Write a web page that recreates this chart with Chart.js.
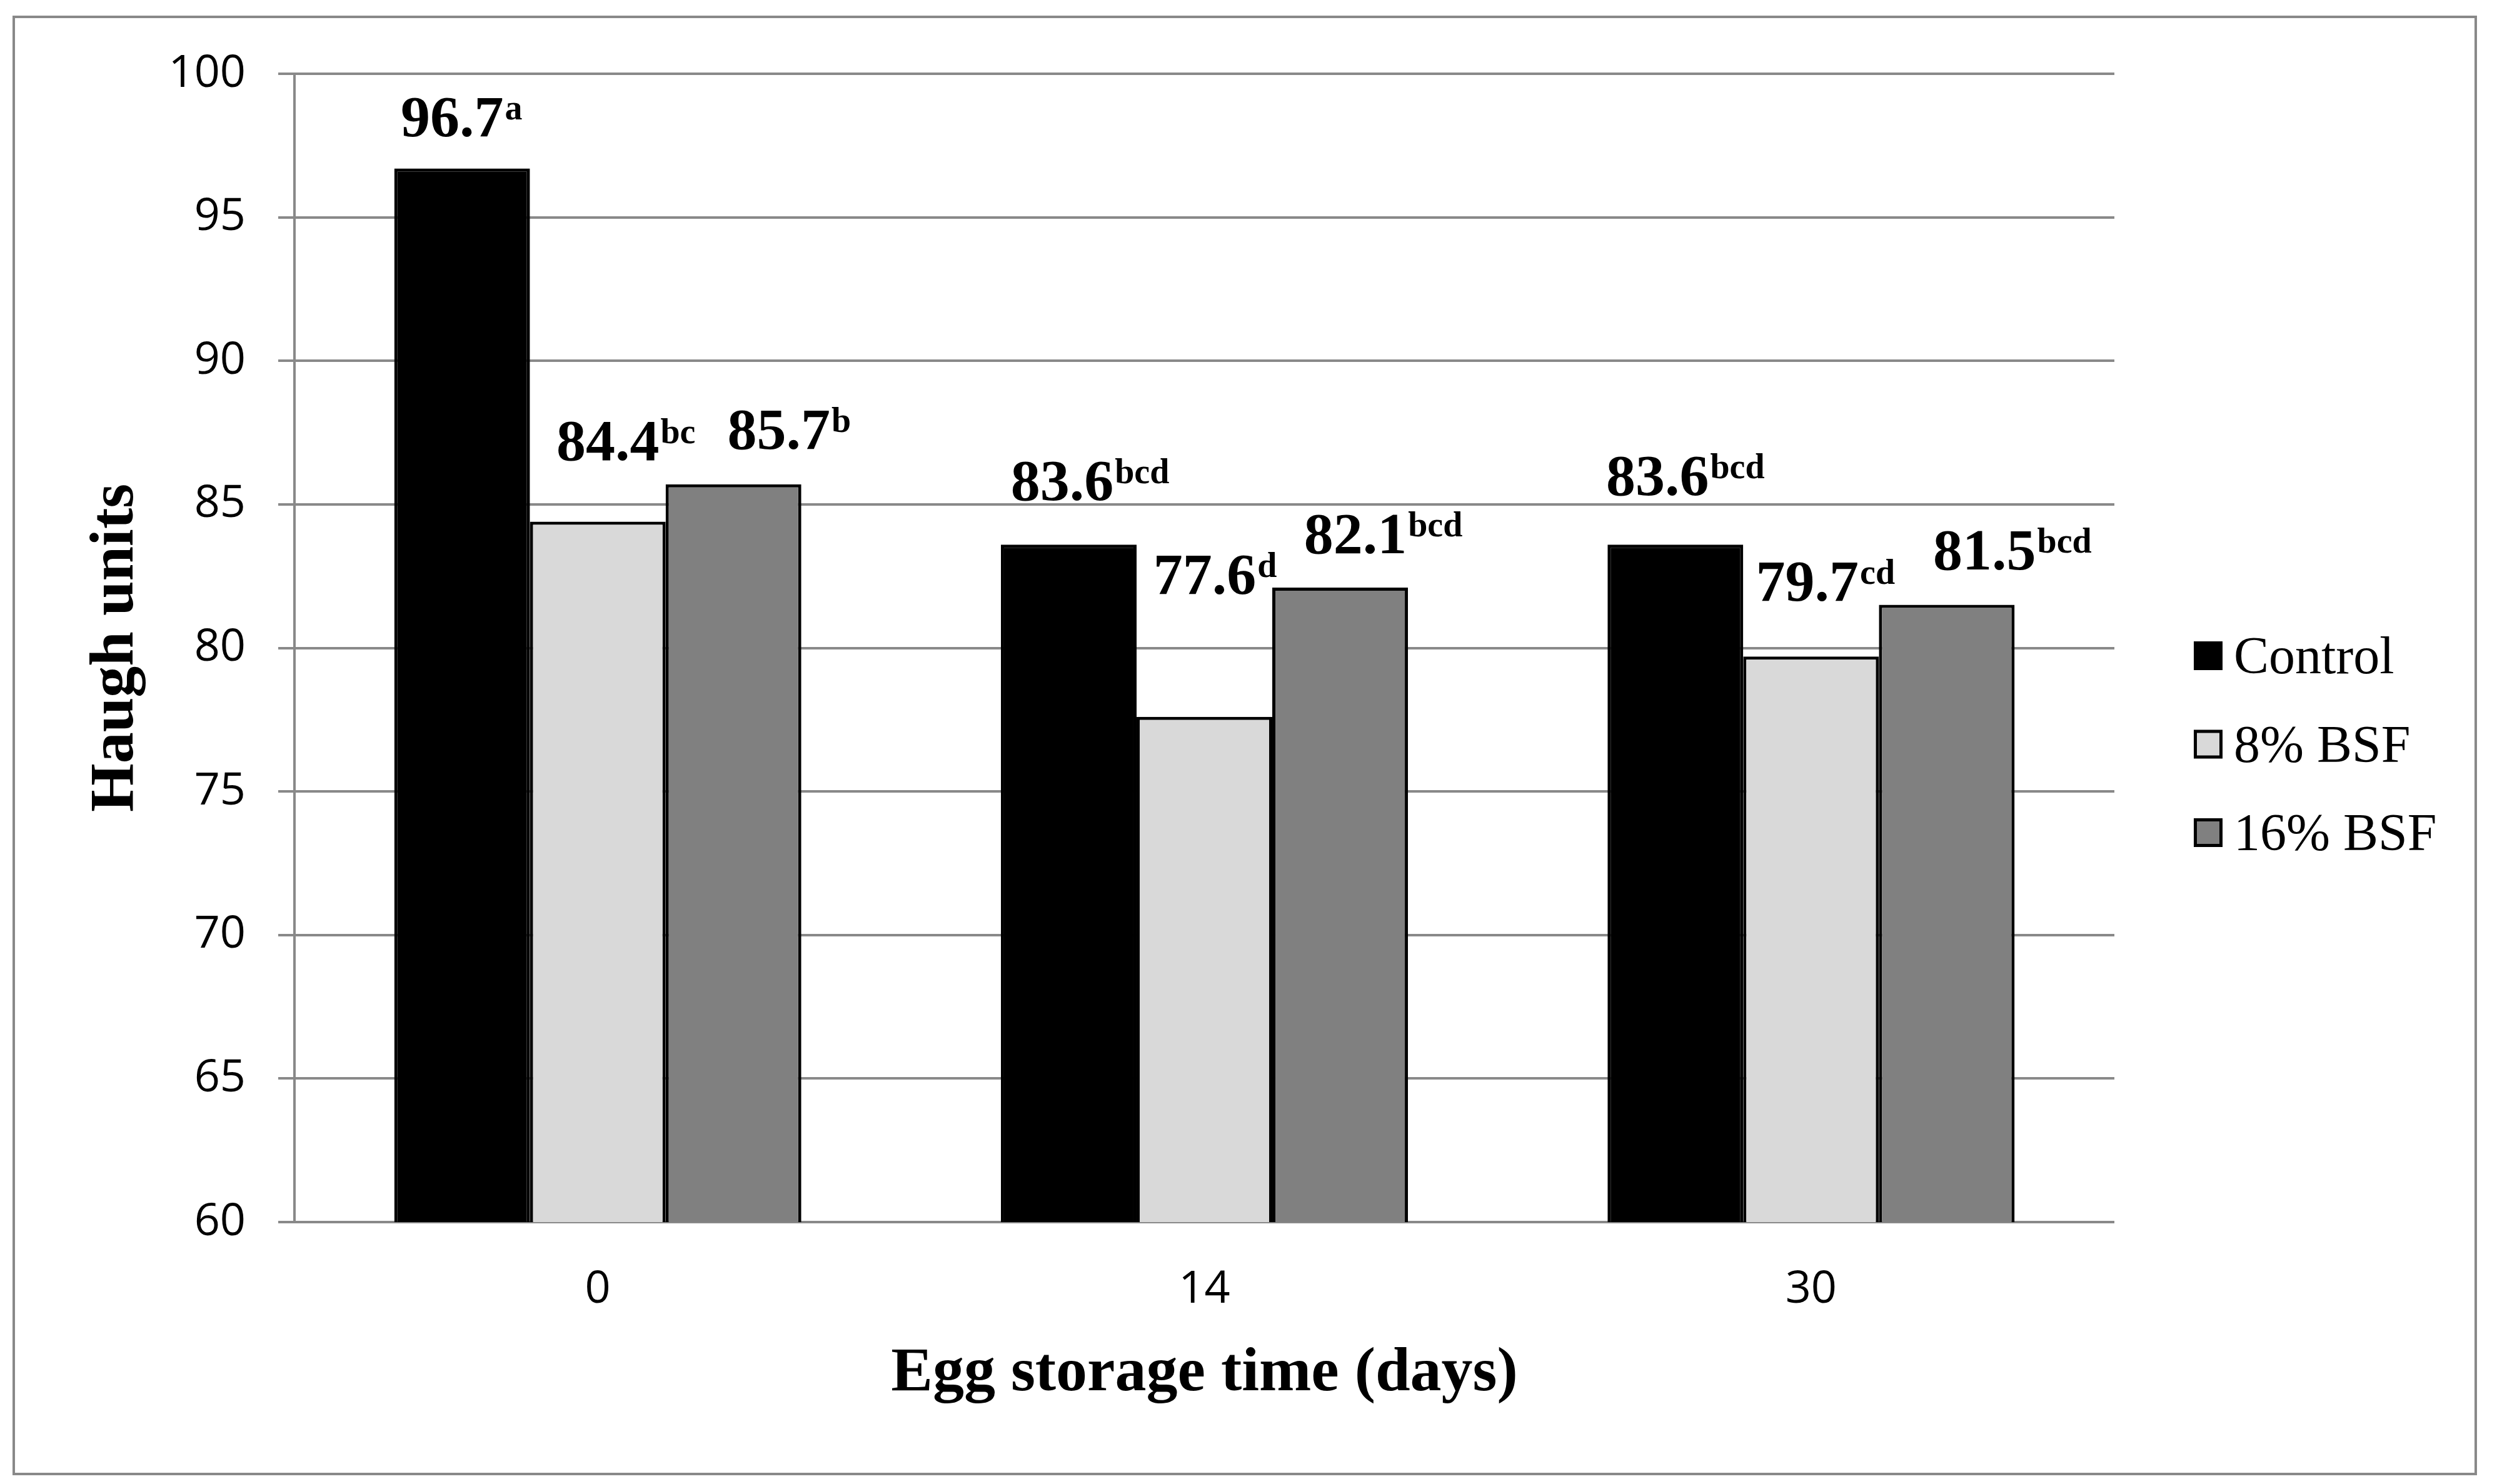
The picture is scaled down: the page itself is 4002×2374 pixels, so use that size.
<!DOCTYPE html>
<html>
<head>
<meta charset="utf-8">
<script src="https://cdn.jsdelivr.net/npm/chart.js@4.4.1/dist/chart.umd.min.js"></script>
<style>
  html, body { margin: 0; padding: 0; background: #fff; }
  #wrap { width: 4002px; height: 2374px; }
</style>
</head>
<body>
<div id="wrap"><canvas id="haughChart" width="4002" height="2374"></canvas></div>
<script>
// Values
const storageDays = ['0', '14', '30'];
const seriesNames = ['Control', '8% BSF', '16% BSF'];
const controlValues = [96.7, 83.6, 83.6];
const bsf8Values = [84.4, 77.6, 79.7];
const bsf16Values = [85.7, 82.1, 81.5];
const controlLetters = ['a', 'bcd', 'bcd'];
const bsf8Letters = ['bc', 'd', 'cd'];
const bsf16Letters = ['b', 'bcd', 'bcd'];
const yTicks = [60, 65, 70, 75, 80, 85, 90, 95, 100];

const gridGray = '#898989';
const serif = '"Liberation Serif", "Times New Roman", serif';
const sans = '"Open Sans", "Liberation Sans", sans-serif';

// Outer frame of the figure
const frame = {
    id: 'frame',
    beforeDraw(chart) {
        const ctx = chart.ctx;
        ctx.save();
        ctx.fillStyle = '#fff';
        ctx.fillRect(0, 0, chart.width, chart.height);
        ctx.strokeStyle = gridGray;
        ctx.lineWidth = 4;
        ctx.strokeRect(22, 27, 3938, 2331);
        ctx.restore();
    }
};

// Value + significance letter above each bar
const letterLabels = {
    id: 'letterLabels',
    afterDatasetsDraw(chart, args, opts) {
        const ctx = chart.ctx;
        ctx.save();
        ctx.fillStyle = '#000';
        ctx.textAlign = 'left';
        ctx.textBaseline = 'alphabetic';
        chart.data.datasets.forEach((ds, i) => {
            chart.getDatasetMeta(i).data.forEach((bar, j) => {
                const main = ds.data[j].toFixed(1);
                const sup = ds.letters[j];
                ctx.font = 'bold 94px ' + serif;
                const w1 = ctx.measureText(main).width;
                ctx.font = 'bold 56px ' + serif;
                const w2 = ctx.measureText(sup).width;
                const [dx, lift] = opts.shift[i][j];
                const x0 = bar.x + dx - (w1 + w2 + 2) / 2;
                const base = bar.y - lift;
                ctx.font = 'bold 94px ' + serif;
                ctx.fillText(main, x0, base);
                ctx.font = 'bold 56px ' + serif;
                ctx.fillText(sup, x0 + w1 + 2, base - 27);
            });
        });
        ctx.restore();
    }
};

// Legend at the right, as in the figure
const sideLegend = {
    id: 'sideLegend',
    afterDraw(chart, args, opts) {
        const { ctx, chartArea } = chart;
        const bx = chartArea.right + opts.offsetX;
        const s = opts.box;
        ctx.save();
        chart.data.datasets.forEach((ds, i) => {
            const cy = chartArea.top + opts.firstY + i * opts.gap;
            ctx.fillStyle = ds.backgroundColor;
            ctx.fillRect(bx, cy - s / 2, s, s);
            ctx.strokeStyle = '#000';
            ctx.lineWidth = 5;
            ctx.strokeRect(bx + 2.5, cy - s / 2 + 2.5, s - 5, s - 5);
            ctx.fillStyle = '#000';
            ctx.font = '84px ' + serif;
            ctx.textAlign = 'left';
            ctx.textBaseline = 'alphabetic';
            ctx.fillText(ds.label, bx + s + 18, cy + 28);
        });
        ctx.restore();
    }
};

const ctx = document.getElementById('haughChart').getContext('2d');
new Chart(ctx, {
    type: 'bar',
    data: {
        labels: storageDays,
        datasets: [{
            label: seriesNames[0],
            data: controlValues,
            letters: controlLetters,
            backgroundColor: '#000000'
        }, {
            label: seriesNames[1],
            data: bsf8Values,
            letters: bsf8Letters,
            backgroundColor: '#d9d9d9'
        }, {
            label: seriesNames[2],
            data: bsf16Values,
            letters: bsf16Letters,
            backgroundColor: '#808080'
        }]
    },
    options: {
        responsive: false,
        devicePixelRatio: 1,
        animation: false,
        layout: { padding: { top: 118, right: 620, left: 0, bottom: 0 } },
        datasets: {
            bar: {
                borderColor: '#000',
                borderWidth: 5,
                borderSkipped: false,
                barPercentage: 1.0,
                categoryPercentage: 0.671
            }
        },
        scales: {
            x: {
                grid: { display: false, drawTicks: false },
                border: { display: false },
                ticks: { font: { family: sans, size: 72 }, color: '#000', padding: 65 },
                title: {
                    display: true,
                    text: 'Egg storage time (days)',
                    font: { family: serif, size: 100, weight: 'bold' },
                    color: '#000',
                    padding: { top: 0, bottom: 116 }
                },
                afterFit(scale) { scale.height = 419; }
            },
            y: {
                min: 60,
                max: 100,
                afterBuildTicks(scale) { scale.ticks = yTicks.map(v => ({ value: v })); },
                grid: { color: gridGray, lineWidth: 4, tickLength: 26 },
                border: { display: true, color: gridGray, width: 4 },
                ticks: { font: { family: sans, size: 72 }, color: '#000', padding: 52 },
                title: {
                    display: true,
                    text: 'Haugh units',
                    font: { family: serif, size: 100, weight: 'bold' },
                    color: '#000',
                    padding: { top: 126, bottom: 0 }
                },
                afterFit(scale) { scale.width = 471; }
            }
        },
        plugins: {
            legend: { display: false },
            tooltip: { enabled: false },
            letterLabels: {
                shift: [
                    [[-1, 52], [34, 71], [16, 79]],
                    [[45, 98], [17, 197], [23, 89]],
                    [[89, 57], [69, 55], [105, 57]]
                ]
            },
            sideLegend: { offsetX: 127, firstY: 931, gap: 141.5, box: 46 }
        }
    },
    plugins: [frame, letterLabels, sideLegend]
});
</script>
</body>
</html>
